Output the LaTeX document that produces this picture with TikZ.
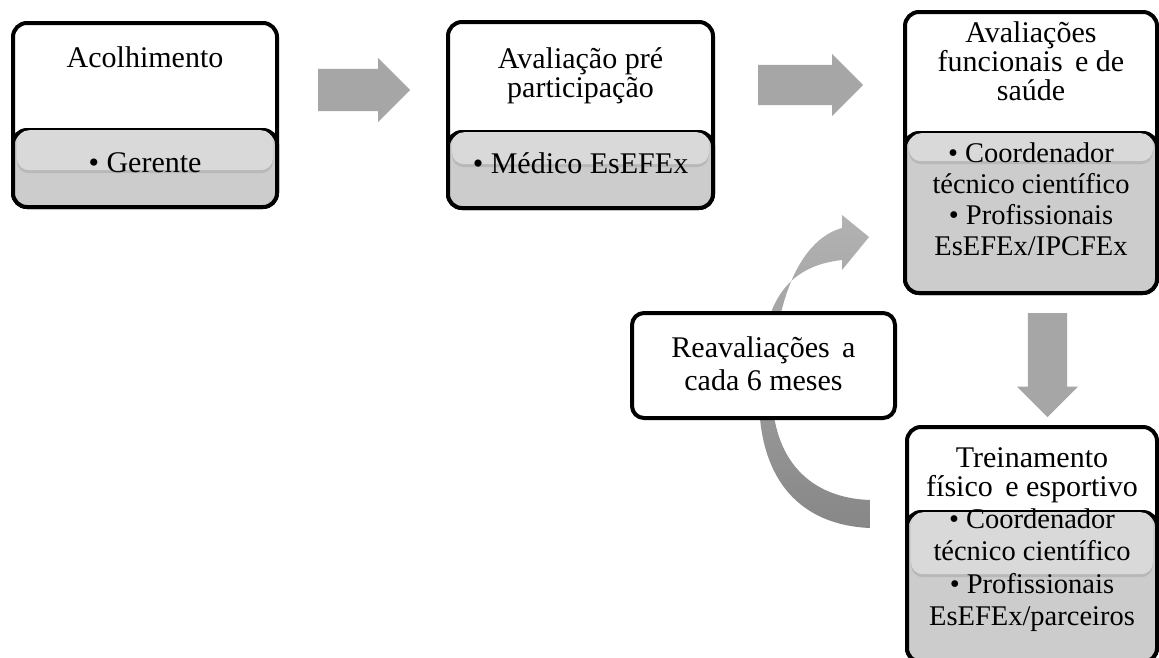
\documentclass[tikz,border=0pt]{standalone}
\usepackage{fontspec}
\setmainfont{Liberation Serif}
\usetikzlibrary{positioning,shapes.arrows,shadows}

\begin{document}
\begin{tikzpicture}[x=1pt,y=-1pt]

\tikzstyle{block}=[draw,line width=4pt,rounded corners=14pt,fill=white]
\tikzstyle{role}=[draw,line width=4pt,rounded corners=14pt,fill=black!20]
\tikzstyle{band}=[fill=black!15,rounded corners=12pt,drop shadow={shadow xshift=0pt,shadow yshift=-3pt,opacity=0.25}]
\tikzstyle{txt}=[align=center,inner sep=0pt,anchor=north,font=\fontsize{30}{29}\selectfont]
\tikzstyle{flow}=[single arrow,fill=black!35,inner xsep=0pt,single arrow head extend=11pt,single arrow head indent=0pt,anchor=tail]

\clip (0,0) rectangle (1159,657);
\fill[white] (0,0) rectangle (1159,657);

% step boxes
\node[block,minimum width=264pt,minimum height=184pt] (acolh) at (145,115) {};
\node[role,minimum width=264pt,minimum height=77pt,anchor=south] (acolhR) at (acolh.south) {};
\node[band,minimum width=256pt,minimum height=40pt,anchor=north] (acolhB) at ([yshift=-2pt]acolhR.north) {};

\node[block,minimum width=265pt,minimum height=186pt] (pre) at (580.5,115) {};
\node[role,minimum width=265pt,minimum height=76pt,anchor=south] (preR) at (pre.south) {};
\node[band,minimum width=257pt,minimum height=32pt,anchor=north] (preB) at ([yshift=-2pt]preR.north) {};

\node[block,minimum width=252pt,minimum height=281pt] (aval) at (1031,152.5) {};
\node[role,minimum width=252pt,minimum height=160pt,anchor=south] (avalR) at (aval.south) {};
\node[band,minimum width=244pt,minimum height=28pt,anchor=north] (avalB) at ([yshift=-2pt]avalR.north) {};

\node[block,minimum width=250pt,minimum height=235pt] (trein) at (1032,544.5) {};
\node[role,minimum width=250pt,minimum height=150pt,anchor=south] (treinR) at (trein.south) {};
\node[band,minimum width=242pt,minimum height=62pt,anchor=north] (treinB) at ([yshift=-2pt]treinR.north) {};

% texts
\node[txt] (acolhT) at (145,46) {Acolhimento};
\node[txt] (acolhL) at (145,152) {\textbullet\ Gerente};
\node[txt] (preT) at (580.5,47) {Avaliação pré\\participação};
\node[txt] (preL) at (580.5,152) {\textbullet\ Médico EsEFEx};
\node[txt] (avalT) at (1031,21) {Avaliações\\funcionais\, e de\\saúde};
\node[txt,font=\fontsize{28.5}{31}\selectfont] (avalL) at (1031,142.5)
    {\textbullet\ Coordenador\\técnico científico\\\textbullet\ Profissionais\\EsEFEx/IPCFEx};
\node[txt] (treinT) at (1032,447) {Treinamento\\físico\, e esportivo};
\node[txt,font=\fontsize{28.5}{32.5}\selectfont] (treinL) at (1032,508.5)
    {\textbullet\ Coordenador\\técnico científico\\\textbullet\ Profissionais\\EsEFEx/parceiros};

% flow arrows
\node[flow,inner ysep=21pt,minimum height=92pt] (arrA) at (318,90) {};
\node[flow,inner ysep=20pt,minimum height=105pt] (arrB) at (758,85) {};
\node[flow,inner ysep=19.5pt,minimum height=104pt,rotate=270] (arrC) at (1047.5,313) {};

% loop back
\shade[top color=black!30,bottom color=black!47]
    (870,528) .. controls (800,525) and (760,480) .. (759,400)
    .. controls (758,300) and (788,266) .. (842,260)
    -- (842,270) -- (869,237) -- (842,215) -- (842,228)
    .. controls (805,238) and (774,290) .. (772,390)
    .. controls (772,460) and (810,498) .. (870,500) -- cycle;

\node[block,rounded corners=12pt,minimum width=263pt,minimum height=105pt] (reav) at (763.5,365.5) {};
\node[txt,font=\fontsize{30}{33}\selectfont] (reavT) at (763.5,336) {Reavaliações\, a\\cada 6 meses};

\end{tikzpicture}
\end{document}
